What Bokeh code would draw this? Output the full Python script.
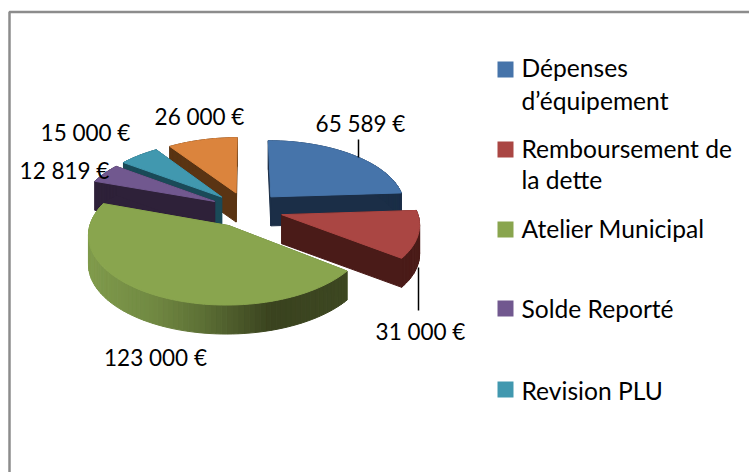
import numpy as np
from bokeh.plotting import figure
from bokeh.embed import file_html
from bokeh.resources import INLINE
from bokeh.core.properties import value

# ---------- data ----------
categories = ["Dépenses d’équipement", "Remboursement de la dette", "Atelier Municipal",
              "Solde Reporté", "Revision PLU", "Autres"]
values = [65589, 31000, 123000, 12819, 15000, 26000]
value_labels = ["65 589 €", "31 000 €", "123 000 €", "12 819 €", "15 000 €", "26 000 €"]
top_colors = ["#4674AA", "#AA4643", "#89A54E", "#71588F", "#4198AF", "#DB843D"]
side_colors = ["#1B2E47", "#4A1B18", "#5E7136", "#2E2139", "#1A4A58", "#5A3413"]

legend_lines = [("Dépenses", 67), ("d’équipement", 100), ("Remboursement de", 148), ("la dette", 179),
                ("Atelier Municipal", 228), ("Solde Reporté", 308), ("Revision PLU", 390)]
legend_swatches = [69, 149, 229, 308, 389]
label_pos = [(360, 123), (420, 331), (155, 357), (64, 170), (85, 132), (199, 116)]

# ---------- projection of the tilted pie ----------
CX, CY, R, RQ, K, EXPL, DEPTH = 246, 209, 135, 65.7, 0.12, 0.27, 29


def proj(u, v):
    s = 1 / (1 + K * v)
    return CX + R * u * s, CY - RQ * v * s


p = figure(width=749, height=472, x_range=(0, 749), y_range=(472, 0),
           output_backend="svg", toolbar_location=None, min_border=0,
           background_fill_color="white", border_fill_color="white", outline_line_color=None)
p.axis.visible = False
p.grid.visible = False

vals = np.array(values, dtype=float)
edges = np.concatenate([[0], np.cumsum(vals) / vals.sum() * 2 * np.pi])

GX = [88, 150, 200, 270, 350]
GR = [0x80, 0x72, 0x5E, 0x3A, 0x3E]
GG = [0x9B, 0x8A, 0x71, 0x43, 0x48]
GB = [0x4C, 0x43, 0x36, 0x1F, 0x22]

faces = {}
for i in range(len(vals)):
    a0, a1 = edges[i], edges[i + 1]
    mid = (a0 + a1) / 2
    ou, ov = EXPL * np.sin(mid), EXPL * np.cos(mid)
    ang = np.linspace(a0, a1, max(int(np.degrees(a1 - a0) / 2), 2) + 1)
    X, Y = proj(ou + np.sin(ang), ov + np.cos(ang))
    ax, ay = proj(ou, ov)
    xs, ys, cs = [], [], []
    # radial faces
    for ex, ey in ((X[0], Y[0]), (X[-1], Y[-1])):
        xs.append([ax, ex, ex, ax])
        ys.append([ay, ey, ey + DEPTH, ay + DEPTH])
        cs.append(side_colors[i])
    # rim, segment by segment
    for j in range(len(ang) - 1):
        xs.append([X[j], X[j + 1], X[j + 1], X[j]])
        ys.append([Y[j], Y[j + 1], Y[j + 1] + DEPTH, Y[j] + DEPTH])
        if i == 2:
            m = (X[j] + X[j + 1]) / 2
            cs.append("#%02x%02x%02x" % (int(np.interp(m, GX, GR)), int(np.interp(m, GX, GG)), int(np.interp(m, GX, GB))))
        else:
            cs.append(side_colors[i])
    # top face
    xs.append([ax] + list(X))
    ys.append([ay] + list(Y))
    cs.append(top_colors[i])
    faces[i] = (xs, ys, cs)

for i in [5, 4, 0, 3, 1, 2]:
    xs, ys, cs = faces[i]
    p.patches(xs, ys, fill_color=cs, line_color=cs, line_width=1)

# frame
p.line([9, 9, 749], [472, 11.5, 11.5], line_color="#8C8C8C", line_width=2.5)

# leaders
p.line([358, 358], [139, 157], line_color="black", line_width=1.5)
p.line([418, 418], [267, 310], line_color="black", line_width=1.5)

# data labels
p.text([q[0] for q in label_pos], [q[1] for q in label_pos], text=value_labels,
       text_font=value("Lato"), text_font_size="22.5px", text_color="black",
       text_align="center", text_baseline="middle")

# legend
p.rect([505] * 5, legend_swatches, width=16, height=16, fill_color=top_colors[:5], line_color=None)
p.text([521] * len(legend_lines), [q[1] for q in legend_lines], text=[q[0] for q in legend_lines],
       text_font=value("Lato"), text_font_size="24.6px", text_color="black",
       text_align="left", text_baseline="middle")

open("out.html", "w").write(file_html(p, INLINE))
